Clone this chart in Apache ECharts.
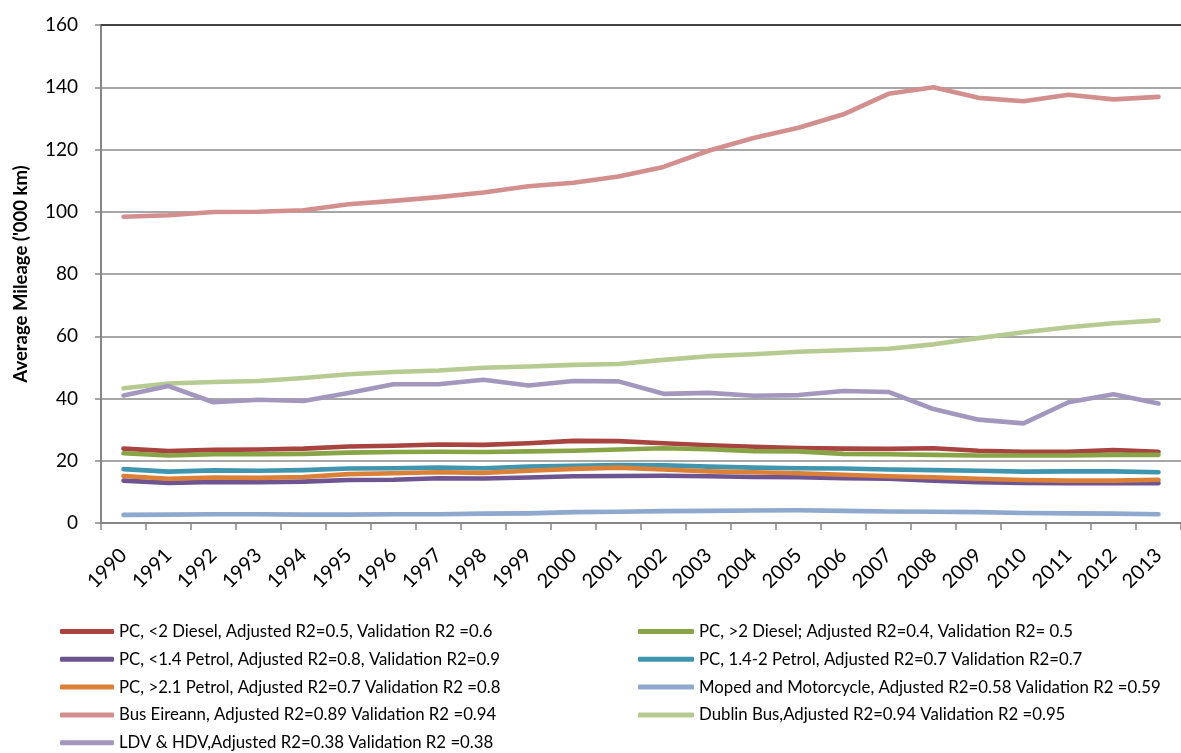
<!DOCTYPE html>
<html>
<head>
<meta charset="utf-8">
<script src="https://cdn.jsdelivr.net/npm/echarts@6/dist/echarts.min.js"></script>
<style>
html,body{margin:0;padding:0;background:#fff;}
#chart{width:1181px;height:753px;}
</style>
</head>
<body>
<div id="chart"></div>
<script>
const years = ['1990','1991','1992','1993','1994','1995','1996','1997','1998','1999','2000','2001','2002','2003','2004','2005','2006','2007','2008','2009','2010','2011','2012','2013'];

const pcDieselSmall = [23.9,23.1,23.5,23.6,23.9,24.6,24.8,25.2,25.1,25.6,26.4,26.3,25.6,25.0,24.5,24.1,23.9,23.8,24.0,23.2,22.9,22.9,23.4,22.9];
const pcDieselLarge = [22.4,21.7,22.1,22.1,22.2,22.6,22.8,22.9,22.8,23.0,23.2,23.6,24.0,23.7,23.1,23.0,22.2,22.1,21.9,21.7,21.7,21.7,21.9,21.9];
const pcPetrolSmall = [13.6,12.9,13.2,13.1,13.3,13.8,13.9,14.4,14.3,14.6,15.0,15.1,15.2,15.0,14.8,14.7,14.4,14.2,13.6,13.1,12.9,12.8,12.8,12.8];
const pcPetrolMid   = [17.3,16.5,16.9,16.8,17.0,17.5,17.6,17.8,17.6,18.1,18.4,18.6,18.5,18.1,17.8,17.6,17.5,17.2,17.0,16.8,16.5,16.6,16.6,16.3];
const pcPetrolLarge = [15.1,14.2,14.6,14.5,14.8,15.7,16.0,16.3,16.1,16.8,17.4,17.8,17.2,16.6,16.3,16.0,15.5,15.0,14.7,14.2,13.8,13.6,13.6,13.9];
const moped         = [2.6,2.7,2.8,2.8,2.7,2.7,2.8,2.8,3.0,3.1,3.5,3.6,3.8,3.9,4.0,4.1,3.9,3.7,3.6,3.5,3.2,3.1,3.0,2.8];
const busEireann    = [98.4,98.9,99.9,100.0,100.5,102.4,103.5,104.7,106.2,108.2,109.3,111.3,114.4,119.6,123.7,127.0,131.3,137.9,140.0,136.6,135.5,137.6,136.1,136.9];
const dublinBus     = [43.3,44.8,45.3,45.6,46.6,47.8,48.5,49.0,49.9,50.3,50.8,51.1,52.4,53.6,54.2,55.0,55.5,56.0,57.4,59.4,61.3,62.9,64.2,65.1];
const ldvHdv        = [41.0,44.0,38.8,39.6,39.2,41.8,44.6,44.6,46.0,44.2,45.6,45.5,41.5,41.8,40.9,41.1,42.4,42.1,36.6,33.2,32.0,38.8,41.4,38.4];

const names = [
  'PC, <2 Diesel, Adjusted R2=0.5, Validation R2 =0.6',
  'PC, >2 Diesel; Adjusted R2=0.4, Validation R2= 0.5',
  'PC, <1.4 Petrol, Adjusted R2=0.8, Validation R2=0.9',
  'PC, 1.4-2 Petrol, Adjusted R2=0.7 Validation R2=0.7',
  'PC, >2.1 Petrol, Adjusted R2=0.7 Validation R2 =0.8',
  'Moped and Motorcycle, Adjusted R2=0.58 Validation R2 =0.59',
  'Bus Eireann, Adjusted R2=0.89 Validation R2 =0.94',
  'Dublin Bus,Adjusted R2=0.94 Validation R2 =0.95',
  'LDV & HDV,Adjusted R2=0.38 Validation R2 =0.38'
];
const values = [pcDieselSmall, pcDieselLarge, pcPetrolSmall, pcPetrolMid, pcPetrolLarge, moped, busEireann, dublinBus, ldvHdv];
const colors = ['#A9433F','#87A447','#6E5490','#3F96AE','#DD8037','#8FA8CE','#D38F8E','#B6CB91','#A497BE'];
const yTicks = {min: 0, max: 160, interval: 20};

const FONT = 'Lato, "Open Sans", sans-serif';
const series = names.map((n, i) => ({
  name: n,
  type: 'line',
  data: values[i],
  symbol: 'none',
  color: colors[i],
  lineStyle: {width: 4.6, color: colors[i], cap: 'round', join: 'round'},
  emphasis: {disabled: true},
  animation: false
}));

const legendBase = {
  orient: 'vertical',
  icon: 'roundRect',
  itemHeight: 5,
  itemGap: 7.8,
  padding: 0,
  height: 140,
  textStyle: {fontFamily: FONT, fontSize: 16.8, color: '#000', lineHeight: 20},
  selectedMode: false
};

const chart = echarts.init(document.getElementById('chart'), null, {renderer: 'canvas'});
chart.setOption({
  animation: false,
  backgroundColor: '#fff',
  grid: {left: 101, top: 25, width: 1091, height: 498, containLabel: false},
  legend: [
    Object.assign({}, legendBase, {data: [names[0], names[2], names[4], names[6], names[8]], left: 60, top: 621.5, itemWidth: 54}),
    Object.assign({}, legendBase, {data: [names[1], names[3], names[5], names[7]], left: 638, top: 621.5, itemWidth: 56})
  ],
  xAxis: [{
    type: 'category',
    data: years,
    boundaryGap: true,
    axisLine: {lineStyle: {color: '#868686', width: 2}},
    axisTick: {show: true, length: 7, lineStyle: {color: '#868686', width: 1.5}},
    axisLabel: {rotate: 45, interval: 0, margin: 29, fontFamily: FONT, fontSize: 20, color: '#000'},
    splitLine: {show: false}
  }, {
    type: 'category',
    data: years,
    position: 'top',
    axisLine: {show: true, lineStyle: {color: '#222', width: 1.5}},
    axisTick: {show: false},
    axisLabel: {show: false}
  }],
  yAxis: {
    type: 'value',
    min: yTicks.min, max: yTicks.max, interval: yTicks.interval,
    name: "Average Mileage ('000 km)",
    nameLocation: 'middle',
    nameGap: 70,
    nameTextStyle: {fontFamily: FONT, fontSize: 18.5, fontWeight: 'bold', color: '#000'},
    axisLine: {show: true, lineStyle: {color: '#868686', width: 2}},
    axisTick: {show: true, length: 6, lineStyle: {color: '#868686', width: 1.5}},
    axisLabel: {margin: 23, fontFamily: FONT, fontSize: 19, color: '#000'},
    splitLine: {lineStyle: {color: '#8a8a8a', width: 1.5}}
  },
  series: series
});
</script>
</body>
</html>
